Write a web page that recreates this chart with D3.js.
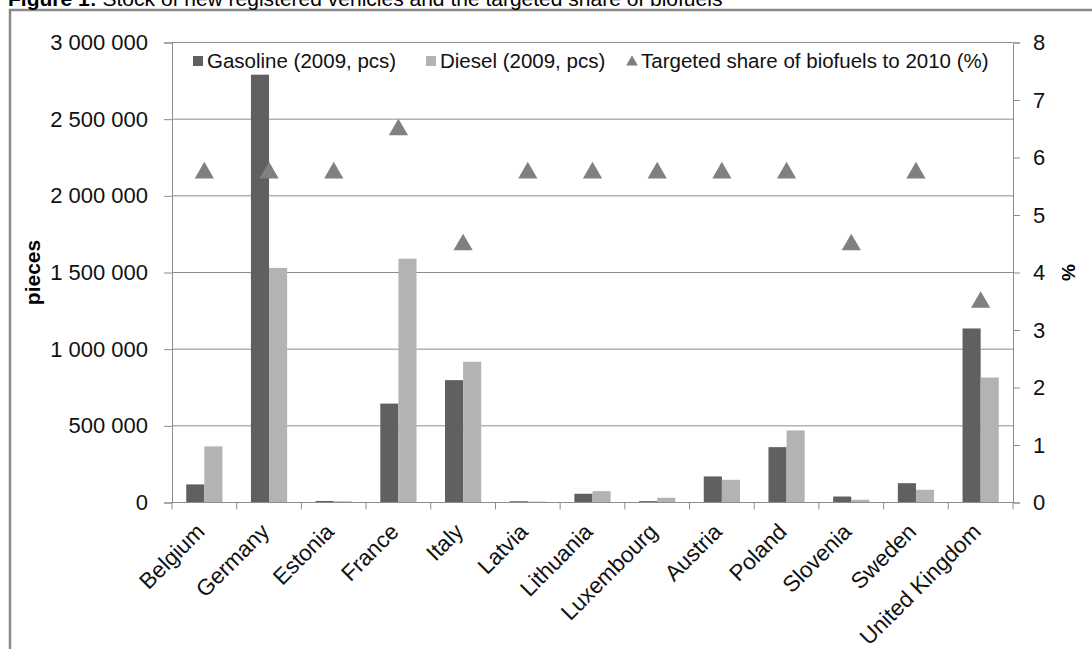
<!DOCTYPE html>
<html>
<head>
<meta charset="utf-8">
<script src="https://cdn.jsdelivr.net/npm/d3@7"></script>
<style>
  html, body { margin: 0; padding: 0; background: #fff; }
  svg { display: block; font-family: "Liberation Sans", Arial, sans-serif; }
</style>
</head>
<body>
<svg id="chart" width="1092" height="649"></svg>
<script>
// Stock of new registered vehicles (2009) and biofuel targets for 2010
const countries = ["Belgium", "Germany", "Estonia", "France", "Italy", "Latvia", "Lithuania",
  "Luxembourg", "Austria", "Poland", "Slovenia", "Sweden", "United Kingdom"];
const gasoline = [118000, 2790000, 10000, 645000, 798000, 8000, 57000, 9000, 170000, 361000, 39000, 126000, 1135000];
const diesel   = [366000, 1530000, 8000, 1590000, 918000, 6000, 74000, 31000, 148000, 470000, 18000, 83000, 815000];
const biofuelTarget = [5.75, 5.75, 5.75, 6.5, 4.5, 5.75, 5.75, 5.75, 5.75, 5.75, 4.5, 5.75, 3.5];

const leftTicks = [0, 500000, 1000000, 1500000, 2000000, 2500000, 3000000];
const rightTicks = [0, 1, 2, 3, 4, 5, 6, 7, 8];
const seriesNames = ["Gasoline (2009, pcs)", "Diesel (2009, pcs)", "Targeted share of biofuels to 2010 (%)"];
const titleBold = "Figure 1:";
const titleRest = " Stock of new registered vehicles and the targeted share of biofuels";

const colGas = "#606060", colDiesel = "#b3b3b3", colTri = "#808080", colLine = "#8c8c8c";

const svg = d3.select("#chart");
const plot = { left: 172, right: 1013, top: 42.5, bottom: 502.5 };

// outer frame of the figure box
svg.append("path")
  .attr("d", `M10,649 V10 H1092`)
  .attr("fill", "none").attr("stroke", "#8a8a8a").attr("stroke-width", 2.5);

// title along the top edge
const title = svg.append("text").attr("x", 8).attr("y", 6)
  .attr("font-size", 21).attr("fill", "#000");
title.append("tspan").attr("font-weight", "bold").text(titleBold);
title.append("tspan").text(titleRest);

const x = d3.scaleBand().domain(countries).range([plot.left, plot.right]).padding(0);
const xBars = d3.scaleBand().domain(countries).range([plot.left, plot.right])
  .paddingInner(0.44).paddingOuter(0.22);
const xSub = d3.scaleBand().domain(["gas", "diesel"]).range([0, xBars.bandwidth()]);
const yL = d3.scaleLinear().domain([0, 3000000]).range([plot.bottom, plot.top]);
const yR = d3.scaleLinear().domain([0, 8]).range([plot.bottom, plot.top]);

const fmt = d3.formatLocale({ decimal: ".", thousands: " ", grouping: [3], currency: ["", ""] }).format(",");

// horizontal gridlines
svg.append("g").selectAll("line").data(leftTicks.filter(d => d > 0)).join("line")
  .attr("x1", plot.left).attr("x2", plot.right)
  .attr("y1", d => yL(d)).attr("y2", d => yL(d))
  .attr("stroke", colLine).attr("stroke-width", 1);

// bars
const groups = svg.append("g").selectAll("g").data(countries).join("g")
  .attr("transform", d => `translate(${xBars(d)},0)`);
groups.append("rect")
  .attr("x", xSub("gas")).attr("width", xSub.bandwidth())
  .attr("y", (d, i) => yL(gasoline[i])).attr("height", (d, i) => plot.bottom - yL(gasoline[i]))
  .attr("fill", colGas);
groups.append("rect")
  .attr("x", xSub("diesel")).attr("width", xSub.bandwidth())
  .attr("y", (d, i) => yL(diesel[i])).attr("height", (d, i) => plot.bottom - yL(diesel[i]))
  .attr("fill", colDiesel);

// left axis
const axL = svg.append("g").attr("transform", `translate(${plot.left},0)`)
  .call(d3.axisLeft(yL).tickValues(leftTicks).tickFormat(fmt).tickSize(8).tickPadding(16));
// right axis
const axR = svg.append("g").attr("transform", `translate(${plot.right},0)`)
  .call(d3.axisRight(yR).tickValues(rightTicks).tickFormat(d3.format("d")).tickSize(7).tickPadding(13));
// bottom axis with ticks between categories
const axB = svg.append("g").attr("transform", `translate(0,${plot.bottom})`);
axB.append("line").attr("x1", plot.left).attr("x2", plot.right)
  .attr("stroke", colLine);
const boundaries = countries.map(c => x(c)).concat([plot.right]);
axB.selectAll("line.tick").data(boundaries).join("line").attr("class", "tick")
  .attr("x1", d => d).attr("x2", d => d).attr("y1", 0).attr("y2", 7)
  .attr("stroke", colLine);
axB.selectAll("text").data(countries).join("text")
  .attr("transform", d => `translate(${x(d) + x.bandwidth() / 2 - 4},${25}) rotate(-45)`)
  .attr("text-anchor", "end").attr("dy", "0.35em")
  .attr("font-size", 22.5).attr("fill", "#111").text(d => d);

[axL, axR].forEach(ax => {
  ax.select(".domain").attr("stroke", colLine);
  ax.selectAll(".tick line").attr("stroke", colLine);
  ax.selectAll(".tick text").attr("font-size", 22).attr("fill", "#111")
    .attr("font-family", "'Liberation Sans', Arial, sans-serif");
});

// axis titles
svg.append("text").attr("transform", `translate(40,${(plot.top + plot.bottom) / 2}) rotate(-90)`)
  .attr("text-anchor", "middle").attr("font-size", 21).attr("font-weight", "bold").text("pieces");
svg.append("text").attr("transform", `translate(1075,${(plot.top + plot.bottom) / 2}) rotate(-90)`)
  .attr("text-anchor", "middle").attr("font-size", 19).attr("font-weight", "bold").text("%");

// biofuel target markers
const tri = d3.symbol().type(d3.symbolTriangle).size(160);
svg.append("g").selectAll("path").data(countries).join("path")
  .attr("d", tri)
  .attr("transform", (d, i) => `translate(${x(d) + x.bandwidth() / 2},${yR(biofuelTarget[i]) + 1})`)
  .attr("fill", colTri);

// legend
const legend = svg.append("g").attr("font-size", 20.5).attr("fill", "#111");
const legY = 61;
const items = [
  { x: 193, name: seriesNames[0], kind: "rect", color: colGas },
  { x: 426, name: seriesNames[1], kind: "rect", color: colDiesel },
  { x: 627, name: seriesNames[2], kind: "tri", color: colTri }
];
items.forEach(it => {
  if (it.kind === "rect") {
    legend.append("rect").attr("x", it.x).attr("y", legY - 5).attr("width", 10).attr("height", 10).attr("fill", it.color);
  } else {
    legend.append("path").attr("d", d3.symbol().type(d3.symbolTriangle).size(60))
      .attr("transform", `translate(${it.x + 5},${legY + 1})`).attr("fill", it.color);
  }
  legend.append("text").attr("x", it.x + 14).attr("y", legY).attr("dy", "0.35em").text(it.name);
});
</script>
</body>
</html>
